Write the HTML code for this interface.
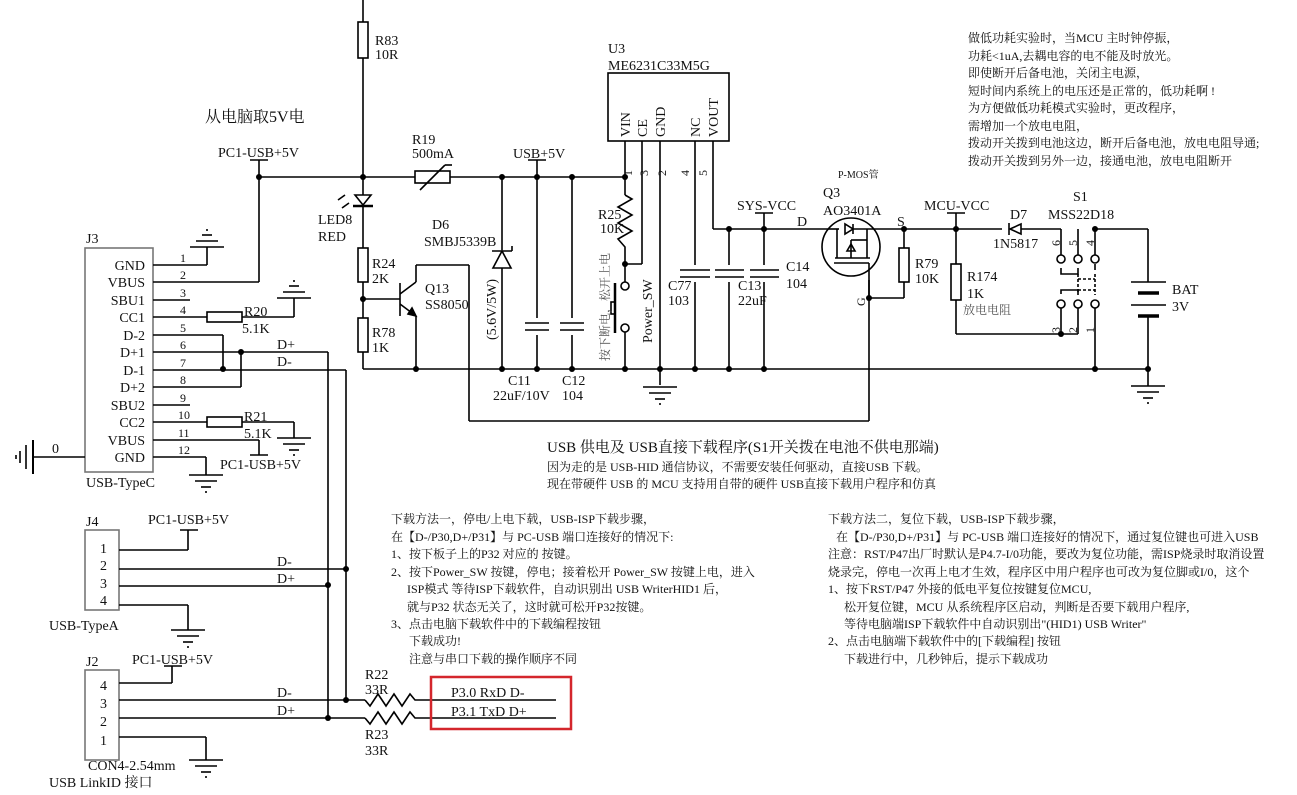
<!DOCTYPE html>
<html><head><meta charset="utf-8"><style>
html,body{margin:0;padding:0;background:#fff}
svg{display:block}
text{font-family:"Liberation Serif","Noto Serif CJK SC",serif;fill:#111;font-size:14px}
.s{font-size:12px}
.c{font-family:"Liberation Serif","Noto Serif CJK SC",serif;font-size:12px}
.g{fill:#555}
</style></head><body>
<svg width="1297" height="795" viewBox="0 0 1297 795" xmlns="http://www.w3.org/2000/svg" stroke="#000" stroke-width="1.6" fill="none">
<defs>
<g id="gnd"><line x1="-17" y1="0" x2="17" y2="0"/><line x1="-11" y1="6" x2="11" y2="6"/><line x1="-5" y1="12" x2="5" y2="12"/><line x1="-1" y1="17" x2="1" y2="17"/></g>
<g id="gndu"><line x1="-17" y1="0" x2="17" y2="0"/><line x1="-11" y1="-6" x2="11" y2="-6"/><line x1="-5" y1="-12" x2="5" y2="-12"/><line x1="-1" y1="-17" x2="1" y2="-17"/></g>
</defs>
<g fill="#000" stroke="none">
<circle cx="259" cy="177" r="3"/><circle cx="363" cy="177" r="3"/><circle cx="502" cy="177" r="3"/><circle cx="537" cy="177" r="3"/><circle cx="572" cy="177" r="3"/><circle cx="625" cy="177" r="3"/>
<circle cx="363" cy="299" r="3"/><circle cx="416" cy="369" r="3"/><circle cx="223" cy="369" r="3"/><circle cx="241" cy="352" r="3"/>
<circle cx="502" cy="369" r="3"/><circle cx="537" cy="369" r="3"/><circle cx="572" cy="369" r="3"/><circle cx="625" cy="369" r="3"/><circle cx="660" cy="369" r="3"/><circle cx="695" cy="369" r="3"/><circle cx="729" cy="369" r="3"/><circle cx="764" cy="369" r="3"/>
<circle cx="625" cy="264" r="3"/><circle cx="729" cy="229" r="3"/><circle cx="764" cy="229" r="3"/><circle cx="904" cy="229" r="3"/><circle cx="956" cy="229" r="3"/><circle cx="869" cy="298" r="3"/>
<circle cx="1095" cy="229" r="3"/><circle cx="1061" cy="334" r="3"/><circle cx="1095" cy="369" r="3"/><circle cx="1148" cy="369" r="3"/>
<circle cx="346" cy="569" r="3"/><circle cx="328" cy="585" r="3"/><circle cx="346" cy="700" r="3"/><circle cx="328" cy="718" r="3"/>
</g>
<line x1="363" y1="0" x2="363" y2="22"/><rect x="358" y="22" width="10" height="36"/><line x1="363" y1="58" x2="363" y2="195"/>
<line x1="259" y1="177" x2="415" y2="177"/><rect x="415" y="171" width="35" height="12"/><line x1="420" y1="190" x2="445" y2="165"/><line x1="445" y1="165" x2="452" y2="165"/><line x1="450" y1="177" x2="625" y2="177"/>
<line x1="250" y1="160" x2="268" y2="160"/><line x1="259" y1="160" x2="259" y2="282"/>
<line x1="528" y1="160" x2="546" y2="160"/><line x1="537" y1="160" x2="537" y2="369"/>
<polygon points="355,195 371,195 363,205"/><line x1="353" y1="206" x2="373" y2="206" stroke-width="2.5"/><line x1="363" y1="206" x2="363" y2="248"/>
<line x1="338" y1="200" x2="345" y2="195"/><line x1="342" y1="208" x2="349" y2="203"/>
<rect x="358" y="248" width="10" height="34"/><line x1="363" y1="282" x2="363" y2="318"/><rect x="358" y="318" width="10" height="34"/><line x1="363" y1="352" x2="363" y2="369"/>
<line x1="363" y1="299" x2="400" y2="299"/><line x1="400" y1="283" x2="400" y2="316"/><line x1="400" y1="294" x2="416" y2="282"/><line x1="416" y1="282" x2="416" y2="265"/><line x1="416" y1="265" x2="469" y2="265"/><line x1="469" y1="265" x2="469" y2="421"/><line x1="469" y1="421" x2="869" y2="421"/><line x1="869" y1="421" x2="869" y2="280"/>
<line x1="400" y1="304" x2="416" y2="316"/><polygon points="416,316 408,314 412,308" fill="#000"/><line x1="416" y1="316" x2="416" y2="369"/>
<line x1="363" y1="369" x2="1148" y2="369"/>
<line x1="502" y1="177" x2="502" y2="250"/><polygon points="502,251 493,268 511,268"/><line x1="492" y1="251" x2="512" y2="251"/><line x1="512" y1="251" x2="512" y2="246"/><line x1="502" y1="268" x2="502" y2="369"/>
<line x1="572" y1="177" x2="572" y2="369"/>
<rect x="529" y="318" width="16" height="17" fill="#fff" stroke="none"/><line x1="525" y1="323" x2="549" y2="323"/><line x1="525" y1="330" x2="549" y2="330"/>
<rect x="564" y="318" width="16" height="17" fill="#fff" stroke="none"/><line x1="560" y1="323" x2="584" y2="323"/><line x1="560" y1="330" x2="584" y2="330"/>
<rect x="608" y="73" width="121" height="68"/>
<line x1="625" y1="141" x2="625" y2="195"/><polyline points="625,195 632,199 618,207 632,215 618,223 632,231 618,239 625,247 625,282"/>
<line x1="642" y1="141" x2="642" y2="264"/><line x1="642" y1="264" x2="625" y2="264"/>
<circle cx="625" cy="286" r="4" fill="#fff"/><circle cx="625" cy="328" r="4" fill="#fff"/><line x1="625" y1="332" x2="625" y2="369"/>
<line x1="615" y1="283" x2="615" y2="333" stroke-width="2.5"/><rect x="611" y="302" width="4" height="12"/>
<line x1="660" y1="141" x2="660" y2="385"/><use href="#gnd" x="660" y="387"/>
<line x1="695" y1="141" x2="695" y2="369"/><line x1="713" y1="141" x2="713" y2="229"/><line x1="713" y1="229" x2="828" y2="229"/>
<line x1="729" y1="229" x2="729" y2="369"/><line x1="764" y1="213" x2="764" y2="369"/><line x1="755" y1="213" x2="773" y2="213"/>
<rect x="681" y="265" width="97" height="17" fill="#fff" stroke="none"/>
<line x1="680" y1="270" x2="710" y2="270"/><line x1="680" y1="277" x2="710" y2="277"/>
<line x1="715" y1="270" x2="744" y2="270"/><line x1="715" y1="277" x2="744" y2="277"/>
<line x1="750" y1="270" x2="779" y2="270"/><line x1="750" y1="277" x2="779" y2="277"/>
<circle cx="851" cy="247" r="29"/>
<line x1="828" y1="229" x2="839" y2="229"/><polygon points="845,224 845,234 853,229"/><line x1="853" y1="224" x2="853" y2="234"/><line x1="853" y1="229" x2="904" y2="229"/>
<line x1="837" y1="229" x2="837" y2="258"/><line x1="867" y1="229" x2="867" y2="258"/><line x1="835" y1="258" x2="870" y2="258"/><line x1="851" y1="240" x2="851" y2="258"/><line x1="851" y1="240" x2="867" y2="240"/><polygon points="851,244 847,251 855,251"/>
<line x1="834" y1="263" x2="869" y2="263"/><line x1="869" y1="263" x2="869" y2="298"/>
<line x1="904" y1="229" x2="904" y2="248"/><rect x="899" y="248" width="10" height="34"/><line x1="904" y1="282" x2="904" y2="298"/><line x1="904" y1="298" x2="869" y2="298"/>
<line x1="904" y1="229" x2="1002" y2="229"/><line x1="947" y1="213" x2="965" y2="213"/><line x1="956" y1="213" x2="956" y2="264"/>
<rect x="951" y="264" width="10" height="36"/><line x1="956" y1="300" x2="956" y2="334"/><line x1="956" y1="334" x2="1078" y2="334"/>
<polygon points="1010,229 1021,224 1021,234"/><line x1="1009" y1="223" x2="1009" y2="235"/><line x1="1021" y1="229" x2="1061" y2="229"/>
<line x1="1061" y1="229" x2="1061" y2="255"/><line x1="1078" y1="229" x2="1078" y2="255"/><line x1="1095" y1="229" x2="1148" y2="229"/><line x1="1095" y1="229" x2="1095" y2="255"/>
<circle cx="1061" cy="259" r="4"/><circle cx="1078" cy="259" r="4"/><circle cx="1095" cy="259" r="4"/>
<polyline points="1061,268 1061,274 1078,274 1078,268"/><line x1="1095" y1="264" x2="1095" y2="270"/>
<line x1="1078" y1="279" x2="1095" y2="279" stroke-dasharray="3,2"/><line x1="1078" y1="290" x2="1095" y2="290" stroke-dasharray="3,2"/><line x1="1078" y1="274" x2="1078" y2="295" stroke-dasharray="3,2"/><line x1="1095" y1="274" x2="1095" y2="295" stroke-dasharray="3,2"/>
<polyline points="1061,294 1061,290 1078,290 1078,294"/>
<circle cx="1061" cy="304" r="4"/><circle cx="1078" cy="304" r="4"/><circle cx="1095" cy="304" r="4"/>
<line x1="1061" y1="308" x2="1061" y2="334"/><line x1="1078" y1="308" x2="1078" y2="334"/><line x1="1095" y1="308" x2="1095" y2="369"/>
<line x1="1148" y1="229" x2="1148" y2="282"/><line x1="1131" y1="282" x2="1166" y2="282"/><line x1="1138" y1="293" x2="1159" y2="293" stroke-width="3.5"/><line x1="1131" y1="305" x2="1166" y2="305"/><line x1="1138" y1="316" x2="1159" y2="316" stroke-width="3.5"/><line x1="1148" y1="316" x2="1148" y2="386"/><use href="#gnd" x="1148" y="386"/>
<rect x="85" y="248" width="68" height="224" stroke="#777"/>
<line x1="153" y1="265" x2="207" y2="265"/><line x1="207" y1="265" x2="207" y2="247"/><use href="#gndu" x="207" y="247"/>
<line x1="153" y1="282" x2="259" y2="282"/>
<line x1="153" y1="300" x2="190" y2="300"/>
<line x1="153" y1="317" x2="207" y2="317"/><rect x="207" y="312" width="35" height="10"/><line x1="242" y1="317" x2="294" y2="317"/><line x1="294" y1="317" x2="294" y2="298"/><use href="#gndu" x="294" y="298"/>
<line x1="153" y1="335" x2="223" y2="335"/><line x1="223" y1="335" x2="223" y2="369"/>
<line x1="153" y1="352" x2="328" y2="352"/><line x1="328" y1="352" x2="328" y2="718"/>
<line x1="153" y1="370" x2="346" y2="370"/><line x1="346" y1="370" x2="346" y2="700"/>
<line x1="153" y1="387" x2="241" y2="387"/><line x1="241" y1="387" x2="241" y2="352"/>
<line x1="153" y1="405" x2="190" y2="405"/>
<line x1="153" y1="422" x2="207" y2="422"/><rect x="207" y="417" width="35" height="10"/><line x1="242" y1="422" x2="294" y2="422"/><line x1="294" y1="422" x2="294" y2="438"/><use href="#gnd" x="294" y="438"/>
<line x1="153" y1="440" x2="259" y2="440"/><line x1="259" y1="440" x2="259" y2="455"/><line x1="250" y1="455" x2="268" y2="455"/>
<line x1="153" y1="457" x2="206" y2="457"/><line x1="206" y1="457" x2="206" y2="475"/><use href="#gnd" x="206" y="475"/>
<line x1="33" y1="457" x2="85" y2="457"/><line x1="33" y1="440" x2="33" y2="474" stroke-width="2"/><line x1="26" y1="445" x2="26" y2="469"/><line x1="20" y1="451" x2="20" y2="463"/><line x1="16" y1="455" x2="16" y2="459"/>
<rect x="85" y="530" width="34" height="80" stroke="#777"/>
<line x1="119" y1="550" x2="188" y2="550"/><line x1="188" y1="550" x2="188" y2="530"/><line x1="180" y1="530" x2="198" y2="530"/>
<line x1="119" y1="569" x2="346" y2="569"/><line x1="119" y1="586" x2="328" y2="586"/>
<line x1="119" y1="605" x2="188" y2="605"/><line x1="188" y1="605" x2="188" y2="630"/><use href="#gnd" x="188" y="630"/>
<rect x="85" y="670" width="34" height="90" stroke="#777"/>
<line x1="119" y1="683" x2="172" y2="683"/><line x1="172" y1="683" x2="172" y2="666"/><line x1="164" y1="666" x2="182" y2="666"/>
<line x1="119" y1="700" x2="365" y2="700"/><polyline points="365,700 370,706 378,694 386,706 394,694 402,706 410,694 415,700 556,700"/>
<line x1="119" y1="718" x2="365" y2="718"/><polyline points="365,718 370,724 378,712 386,724 394,712 402,724 410,712 415,718 556,718"/>
<line x1="119" y1="737" x2="206" y2="737"/><line x1="206" y1="737" x2="206" y2="760"/><use href="#gnd" x="206" y="760"/>
<rect x="431" y="677" width="140" height="52" stroke="#d4262c" stroke-width="2.5"/>

<g stroke="none">
<text x="375" y="45">R83</text><text x="375" y="59">10R</text>
<text x="205" y="122" style="font-size:16px">从电脑取5V电</text>
<text x="218" y="157">PC1-USB+5V</text>
<text x="412" y="144">R19</text><text x="412" y="158">500mA</text>
<text x="513" y="158">USB+5V</text>
<text x="608" y="53">U3</text><text x="608" y="70">ME6231C33M5G</text>
<g transform="rotate(-90)"><text x="-137" y="630">VIN</text><text x="-137" y="647">CE</text><text x="-137" y="665">GND</text><text x="-137" y="700">NC</text><text x="-137" y="718">VOUT</text>
<text x="-176" y="632" class="s">1</text><text x="-176" y="648" class="s">3</text><text x="-176" y="666" class="s">2</text><text x="-176" y="689" class="s">4</text><text x="-176" y="707" class="s">5</text>
<text x="-343" y="652">Power_SW</text><text x="-361" y="609" class="c g">按下断电，松开上电</text>
<text x="-340" y="496">(5.6V/5W)</text>
<text x="-306" y="865" class="s">G</text>
<text x="-246" y="1060" class="s">6</text><text x="-246" y="1077" class="s">5</text><text x="-246" y="1094" class="s">4</text>
<text x="-333" y="1060" class="s">3</text><text x="-333" y="1077" class="s">2</text><text x="-333" y="1094" class="s">1</text>
</g>
<text x="598" y="219">R25</text><text x="600" y="233">10K</text>
<text x="432" y="229">D6</text><text x="424" y="246">SMBJ5339B</text>
<text x="318" y="224">LED8</text><text x="318" y="241">RED</text>
<text x="372" y="268">R24</text><text x="372" y="283">2K</text>
<text x="425" y="293">Q13</text><text x="425" y="309">SS8050</text>
<text x="372" y="337">R78</text><text x="372" y="352">1K</text>
<text x="508" y="385">C11</text><text x="493" y="400">22uF/10V</text><text x="562" y="385">C12</text><text x="562" y="400">104</text>
<text x="668" y="290">C77</text><text x="668" y="305">103</text><text x="738" y="290">C13</text><text x="738" y="305">22uF</text><text x="786" y="271">C14</text><text x="786" y="288">104</text>
<text x="737" y="210">SYS-VCC</text><text x="797" y="226">D</text>
<text x="838" y="178" class="c" style="font-size:10px">P-MOS管</text><text x="823" y="197">Q3</text><text x="823" y="215">AO3401A</text><text x="897" y="226">S</text>
<text x="915" y="268">R79</text><text x="915" y="283">10K</text>
<text x="924" y="210">MCU-VCC</text><text x="967" y="281">R174</text><text x="967" y="298">1K</text><text x="963" y="314" class="c g">放电电阻</text>
<text x="1010" y="219">D7</text><text x="993" y="248">1N5817</text>
<text x="1073" y="201">S1</text><text x="1048" y="219">MSS22D18</text>
<text x="1172" y="294">BAT</text><text x="1172" y="311">3V</text>
<text x="86" y="243">J3</text>
<g text-anchor="end"><text x="145" y="270">GND</text><text x="145" y="287">VBUS</text><text x="145" y="305">SBU1</text><text x="145" y="322">CC1</text><text x="145" y="340">D-2</text><text x="145" y="357">D+1</text><text x="145" y="375">D-1</text><text x="145" y="392">D+2</text><text x="145" y="410">SBU2</text><text x="145" y="427">CC2</text><text x="145" y="445">VBUS</text><text x="145" y="462">GND</text></g>
<text x="180" y="262" class="s">1</text><text x="180" y="279" class="s">2</text><text x="180" y="297" class="s">3</text><text x="180" y="314" class="s">4</text><text x="180" y="332" class="s">5</text><text x="180" y="349" class="s">6</text><text x="180" y="367" class="s">7</text><text x="180" y="384" class="s">8</text><text x="180" y="402" class="s">9</text><text x="178" y="419" class="s">10</text><text x="178" y="437" class="s">11</text><text x="178" y="454" class="s">12</text>
<text x="244" y="316">R20</text><text x="242" y="333">5.1K</text><text x="244" y="421">R21</text><text x="244" y="438">5.1K</text>
<text x="220" y="469">PC1-USB+5V</text><text x="86" y="487">USB-TypeC</text><text x="52" y="453">0</text>
<text x="277" y="349">D+</text><text x="277" y="366">D-</text>
<text x="86" y="526">J4</text><text x="148" y="524">PC1-USB+5V</text>
<text x="100" y="553">1</text><text x="100" y="570">2</text><text x="100" y="588">3</text><text x="100" y="605">4</text>
<text x="49" y="630">USB-TypeA</text><text x="277" y="566">D-</text><text x="277" y="583">D+</text>
<text x="86" y="666">J2</text><text x="132" y="664">PC1-USB+5V</text>
<text x="100" y="690">4</text><text x="100" y="708">3</text><text x="100" y="726">2</text><text x="100" y="745">1</text>
<text x="277" y="697">D-</text><text x="277" y="715">D+</text>
<text x="88" y="770">CON4-2.54mm</text><text x="49" y="787">USB LinkID 接口</text>
<text x="365" y="679">R22</text><text x="365" y="694">33R</text><text x="365" y="739">R23</text><text x="365" y="755">33R</text>
<text x="451" y="697">P3.0  RxD  D-</text><text x="451" y="716">P3.1  TxD  D+</text>
<text x="547" y="452" style="font-size:15px">USB 供电及 USB直接下载程序(S1开关拨在电池不供电那端)</text>
<text x="547" y="471" class="c">因为走的是 USB-HID 通信协议，不需要安装任何驱动，直接USB 下载。</text>
<text x="547" y="488" class="c">现在带硬件 USB 的 MCU 支持用自带的硬件 USB直接下载用户程序和仿真</text>
<text x="391" y="523" class="c">下载方法一，停电/上电下载，USB-ISP下载步骤，</text>
<text x="391" y="541" class="c">在【D-/P30,D+/P31】与 PC-USB 端口连接好的情况下:</text>
<text x="391" y="558" class="c">1、按下板子上的P32 对应的 按键。</text>
<text x="391" y="576" class="c">2、按下Power_SW 按键，停电；接着松开 Power_SW 按键上电，进入</text>
<text x="407" y="593" class="c">ISP模式 等待ISP下载软件，自动识别出 USB WriterHID1 后，</text>
<text x="407" y="611" class="c">就与P32 状态无关了，这时就可松开P32按键。</text>
<text x="391" y="628" class="c">3、点击电脑下载软件中的下载编程按钮</text>
<text x="409" y="645" class="c">下载成功!</text>
<text x="409" y="663" class="c">注意与串口下载的操作顺序不同</text>
<text x="828" y="523" class="c">下载方法二，复位下载，USB-ISP下载步骤，</text>
<text x="836" y="541" class="c">在【D-/P30,D+/P31】与 PC-USB 端口连接好的情况下，通过复位键也可进入USB</text>
<text x="828" y="558" class="c">注意：RST/P47出厂时默认是P4.7-I/0功能，要改为复位功能，需ISP烧录时取消设置</text>
<text x="828" y="576" class="c">烧录完，停电一次再上电才生效，程序区中用户程序也可改为复位脚或I/0，这个</text>
<text x="828" y="593" class="c">1、按下RST/P47 外接的低电平复位按键复位MCU,</text>
<text x="844" y="611" class="c">松开复位键，MCU 从系统程序区启动，判断是否要下载用户程序,</text>
<text x="844" y="628" class="c">等待电脑端ISP下载软件中自动识别出"(HID1) USB Writer"</text>
<text x="828" y="645" class="c">2、点击电脑端下载软件中的[下载编程] 按钮</text>
<text x="844" y="663" class="c">下载进行中，几秒钟后，提示下载成功</text>
<text x="968" y="42" class="c">做低功耗实验时，当MCU 主时钟停振，</text>
<text x="968" y="60" class="c">功耗&lt;1uA,去耦电容的电不能及时放光。</text>
<text x="968" y="77" class="c">即使断开后备电池，关闭主电源，</text>
<text x="968" y="95" class="c">短时间内系统上的电压还是正常的，低功耗啊 !</text>
<text x="968" y="112" class="c">为方便做低功耗模式实验时，更改程序，</text>
<text x="968" y="130" class="c">需增加一个放电电阻，</text>
<text x="968" y="147" class="c">拨动开关拨到电池这边，断开后备电池，放电电阻导通;</text>
<text x="968" y="165" class="c">拨动开关拨到另外一边，接通电池，放电电阻断开</text>
</g>
</svg>
</body></html>
